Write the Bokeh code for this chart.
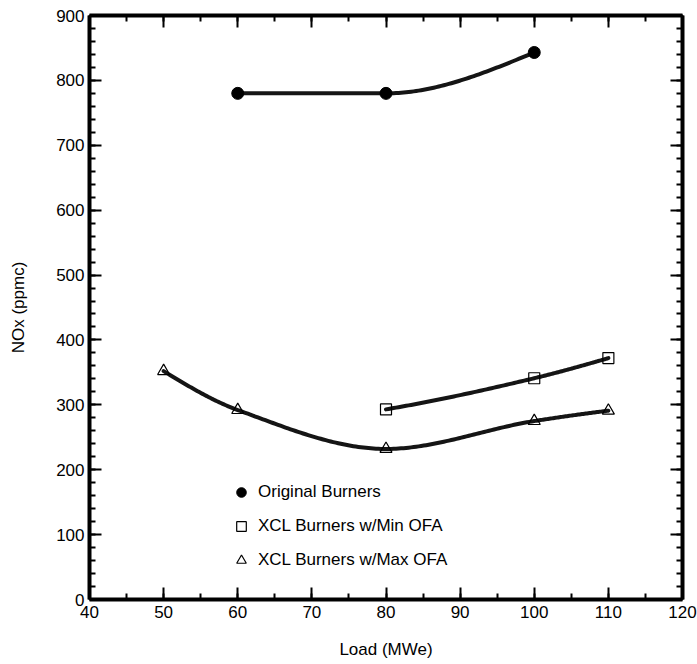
import numpy as np
from bokeh.plotting import figure
from bokeh.models import (Range1d, LinearAxis, SingleIntervalTicker, Legend, LegendItem,
                          CustomJSTickFormatter)
from bokeh.embed import file_html
from bokeh.resources import INLINE

# ---- data ----
orig_load = [60, 80, 100]
orig_nox = [780, 780, 843]

minofa_load = [80, 100, 110]
minofa_nox = [293, 341, 372]

maxofa_load = [50, 60, 80, 100, 110]
maxofa_nox = [352, 292, 232, 275, 291]

series_names = ["Original Burners", "XCL Burners w/Min OFA", "XCL Burners w/Max OFA"]

FONT = "Liberation Sans"


def pchip_curve(x, y, per_seg=60):
    """Monotone cubic (Fritsch-Carlson) smoothing through the data points."""
    x = np.asarray(x, float)
    y = np.asarray(y, float)
    h = np.diff(x)
    d = np.diff(y) / h
    m = np.zeros_like(y)
    for k in range(1, len(x) - 1):
        if d[k - 1] * d[k] <= 0:
            m[k] = 0.0
        else:
            w1 = 2 * h[k] + h[k - 1]
            w2 = h[k] + 2 * h[k - 1]
            m[k] = (w1 + w2) / (w1 / d[k - 1] + w2 / d[k])

    def end(h0, h1, d0, d1):
        mm = ((2 * h0 + h1) * d0 - h0 * d1) / (h0 + h1)
        if np.sign(mm) != np.sign(d0):
            mm = 0.0
        elif np.sign(d0) != np.sign(d1) and abs(mm) > abs(3 * d0):
            mm = 3 * d0
        return mm

    m[0] = end(h[0], h[1], d[0], d[1])
    m[-1] = end(h[-1], h[-2], d[-1], d[-2])
    xs, ys = [], []
    for k in range(len(x) - 1):
        t = np.linspace(0, 1, per_seg)
        h00 = 2 * t**3 - 3 * t**2 + 1
        h10 = t**3 - 2 * t**2 + t
        h01 = -2 * t**3 + 3 * t**2
        h11 = t**3 - t**2
        yy = h00 * y[k] + h10 * h[k] * m[k] + h01 * y[k + 1] + h11 * h[k] * m[k + 1]
        xx = x[k] + t * h[k]
        xs.extend(xx.tolist())
        ys.extend(yy.tolist())
    return xs, ys


p = figure(width=697, height=664, output_backend="svg", toolbar_location=None,
           x_range=Range1d(40, 120), y_range=Range1d(0, 900),
           min_border_left=89, min_border_right=15, min_border_top=15, min_border_bottom=65,
           x_axis_label="Load (MWe)", y_axis_label="NOx (ppmc)")
p.outline_line_color = None
p.xgrid.visible = False
p.ygrid.visible = False
p.background_fill_color = "white"
p.border_fill_color = "white"

p.xaxis.ticker = SingleIntervalTicker(interval=10, num_minor_ticks=2)
p.yaxis.ticker = SingleIntervalTicker(interval=100, num_minor_ticks=5)


def style_axis(ax):
    ax.axis_line_width = 4
    ax.axis_line_color = "black"
    ax.major_tick_in = 12
    ax.major_tick_out = 0
    ax.minor_tick_in = 6
    ax.minor_tick_out = 0
    ax.major_tick_line_width = 2
    ax.minor_tick_line_width = 2
    ax.major_tick_line_color = "black"
    ax.minor_tick_line_color = "black"
    ax.major_label_text_font = FONT
    ax.major_label_text_font_size = "17px"
    ax.major_label_text_color = "black"
    ax.major_label_standoff = 5
    ax.axis_label_text_font = FONT
    ax.axis_label_text_font_size = "17px"
    ax.axis_label_text_font_style = "normal"
    ax.axis_label_text_color = "black"


for ax in p.xaxis + p.yaxis:
    style_axis(ax)
p.xaxis.major_label_standoff = 6
p.xaxis.axis_label_standoff = 19
p.yaxis.axis_label_standoff = 25

blank = CustomJSTickFormatter(code="return ''")
right = LinearAxis(ticker=SingleIntervalTicker(interval=100, num_minor_ticks=5), formatter=blank)
top = LinearAxis(ticker=SingleIntervalTicker(interval=10, num_minor_ticks=2), formatter=blank)
style_axis(right)
style_axis(top)
right.major_label_standoff = 0
top.major_label_standoff = 0
p.add_layout(right, "right")
p.add_layout(top, "above")

# curves
for xs_, ys_ in [(orig_load, orig_nox), (minofa_load, minofa_nox), (maxofa_load, maxofa_nox)]:
    cx, cy = pchip_curve(xs_, ys_)
    p.line(cx, cy, line_width=4, line_color="#151515", line_join="round", line_cap="round")

r1 = p.scatter(orig_load, orig_nox, marker="circle", size=12, fill_color="black", line_color="black")
r2 = p.scatter(minofa_load, minofa_nox, marker="square", size=11, fill_color=None,
               line_color="black", line_width=1.2)
r3 = p.scatter(maxofa_load, maxofa_nox, marker="triangle", size=12, fill_color=None,
               line_color="black", line_width=1.2)

legend = Legend(items=[LegendItem(label=series_names[0], renderers=[r1]),
                       LegendItem(label=series_names[1], renderers=[r2]),
                       LegendItem(label=series_names[2], renderers=[r3])],
                location=(140, 27), orientation="vertical",
                glyph_width=24, glyph_height=24, label_height=24, spacing=10,
                label_standoff=5, padding=0, margin=0,
                border_line_color=None, background_fill_alpha=0,
                label_text_font=FONT, label_text_font_size="17px", label_text_color="black")
p.add_layout(legend, "center")

open("out.html", "w").write(file_html(p, INLINE))
